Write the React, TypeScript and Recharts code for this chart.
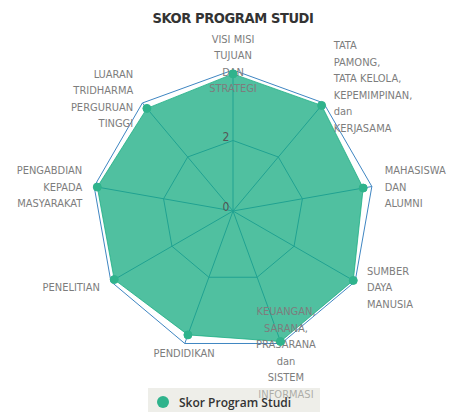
import {
  RadarChart,
  Radar,
  PolarGrid,
  PolarAngleAxis,
  PolarRadiusAxis,
  Legend,
} from "recharts";

const categories = [
  "VISI MISI|TUJUAN|DAN|STRATEGI",
  "TATA|PAMONG,|TATA KELOLA,|KEPEMIMPINAN,|dan|KERJASAMA",
  "MAHASISWA|DAN|ALUMNI",
  "SUMBER|DAYA|MANUSIA",
  "KEUANGAN,|SARANA,|PRASARANA|dan|SISTEM|INFORMASI",
  "PENDIDIKAN",
  "PENELITIAN",
  "PENGABDIAN|KEPADA|MASYARAKAT",
  "LUARAN|TRIDHARMA|PERGURUAN|TINGGI",
];
const scores = [3.89, 3.91, 3.75, 3.94, 3.94, 3.74, 3.89, 3.91, 3.8];
const radialTicks = [0, 2, 4];
const title = "SKOR PROGRAM STUDI";
const seriesName = "Skor Program Studi";

const narrow = "'DejaVu Sans Condensed', 'DejaVu Sans', sans-serif";
const teal = "#15ab80";

const data = categories.map((c, i) => ({ cat: c, score: scores[i] }));

function AngleTick(props: any) {
  const { x, y, cx, payload } = props;
  const lines: string[] = String(payload.value).split("|");
  const dx = x - cx;
  const dy = y - props.cy;
  let anchor = "middle";
  let tx = x;
  if (dx > 60) {
    anchor = "start";
    tx = x + 5;
  } else if (dx < -60) {
    anchor = "end";
    tx = x - 4;
  } else if (dx !== 0) {
    tx = x + 2;
  }
  const lh = 16.5;
  const mid = y + 2 - (lines.length >= 6 && dy < 0 ? 12 : 0);
  const top = mid - ((lines.length - 1) * lh) / 2;
  return (
    <text
      textAnchor={anchor}
      fontFamily={narrow}
      fontSize={11}
      fill="#7d7d7d"
    >
      {lines.map((l, i) => (
        <tspan key={i} x={tx} y={top + i * lh} dominantBaseline="central">
          {l}
        </tspan>
      ))}
    </text>
  );
}

function RadiusTick(props: any) {
  const { x, y, payload } = props;
  if (payload.value === radialTicks[radialTicks.length - 1]) return null;
  return (
    <text
      x={x - 7}
      y={y - 4}
      textAnchor="middle"
      dominantBaseline="central"
      fontFamily={narrow}
      fontSize={12}
      fill="#555"
    >
      {payload.value}
    </text>
  );
}

function LegendBox() {
  return (
    <div
      style={{
        width: 172,
        height: 28,
        background: "rgba(222,222,212,0.5)",
        display: "flex",
        alignItems: "center",
        fontFamily: "'Open Sans', sans-serif",
        fontWeight: 600,
        fontSize: 12,
        color: "#333",
      }}
    >
      <span
        style={{
          display: "inline-block",
          width: 12,
          height: 12,
          borderRadius: 6,
          background: "#2fb38c",
          marginLeft: 9,
          marginRight: 10,
        }}
      />
      {seriesName}
    </div>
  );
}

export default function App() {
  return (
    <div
      style={{
        position: "absolute",
        left: 0,
        top: 0,
        width: 450,
        height: 412,
        background: "#fff",
        overflow: "hidden",
      }}
    >
      <div
        style={{
          position: "absolute",
          left: 0,
          width: 466,
          top: 10,
          textAlign: "center",
          fontFamily: "'DejaVu Sans', sans-serif",
          fontStretch: "condensed",
          fontWeight: 700,
          fontSize: 14.5,
          letterSpacing: -0.4,
          color: "#333",
        }}
      >
        {title}
      </div>
      <RadarChart
        width={450}
        height={412}
        data={data}
        cx={233}
        cy={211}
        outerRadius={141}
        startAngle={90}
        endAngle={-270}
      >
        <PolarGrid gridType="polygon" stroke="#3f86c2" strokeWidth={1} />
        <PolarAngleAxis dataKey="cat" tick={<AngleTick />} tickLine={false} axisLine={false} />
        <PolarRadiusAxis
          angle={90}
          domain={[0, 4]}
          ticks={radialTicks as any}
          tick={<RadiusTick />}
          axisLine={false}
          tickLine={false}
        />
        <Radar
          name={seriesName}
          dataKey="score"
          stroke={teal}
          strokeOpacity={0.75}
          strokeWidth={1}
          fill={teal}
          fillOpacity={0.75}
          dot={{ r: 4, fill: "#2fb38c", stroke: "#2fb38c", fillOpacity: 1, strokeOpacity: 1 }}
          isAnimationActive={false}
        />
        <Legend
          content={<LegendBox />}
          wrapperStyle={{ position: "absolute", left: 148, top: 388, width: 172 }}
        />
      </RadarChart>
    </div>
  );
}
